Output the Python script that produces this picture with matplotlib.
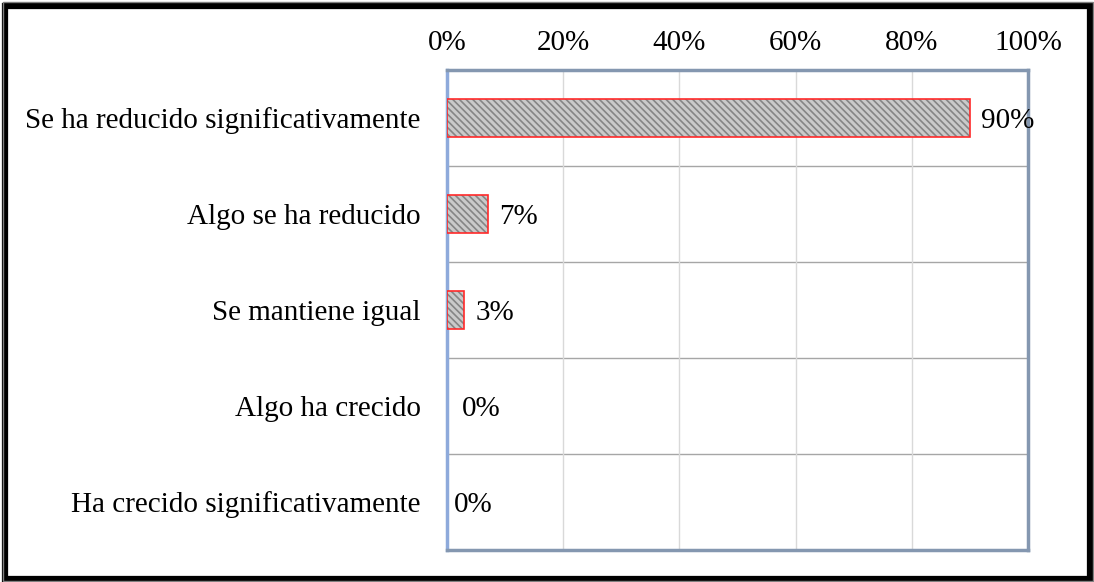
import matplotlib
matplotlib.use("Agg")
import matplotlib.pyplot as plt
from matplotlib.patches import Rectangle

categories = ["Se ha reducido significativamente", "Algo se ha reducido",
              "Se mantiene igual", "Algo ha crecido", "Ha crecido significativamente"]
values = [90, 7, 3, 0, 0]
tick_values = [0, 20, 40, 60, 80, 100]
tick_labels = ["0%", "20%", "40%", "60%", "80%", "100%"]

plt.rcParams['font.family'] = ['Liberation Serif', 'DejaVu Serif']
plt.rcParams['hatch.linewidth'] = 1.2

W, H = 1094, 582
FS = 21
fig = plt.figure(figsize=(W / 100, H / 100), dpi=100)
ax = fig.add_axes([447 / W, 1 - 550 / H, (1028 - 447) / W, (550 - 70) / H])

n = len(categories)
ypos = list(range(n))
# hatched fill
ax.barh(ypos, values, height=0.4, color='#cacaca', edgecolor='#858585',
        linewidth=0, hatch='\\\\\\\\\\', zorder=3)
# red outline
ax.barh(ypos, values, height=0.4, fill=False, edgecolor='#ff2a2a',
        linewidth=[1.2 if v > 0 else 0 for v in values], zorder=4)
ax.set_xlim(0, 100)
ax.set_ylim(n - 0.5, -0.5)
ax.set_yticks(ypos)
ax.set_yticklabels(categories, fontsize=FS, va='center_baseline')
ax.set_xticks(tick_values)
ax.set_xticklabels(tick_labels, fontsize=FS)
ax.xaxis.tick_top()
ax.tick_params(axis='both', length=0)
ax.tick_params(axis='y', pad=19)
ax.tick_params(axis='x', pad=10)

ax.grid(axis='x', color='#d9d9d9', linewidth=1.0, zorder=0)
for i in range(1, n):
    ax.axhline(i - 0.5, color='#a6a6a6', linewidth=1.0, zorder=1)

offsets = [8, 8, 8, 11, 5]
for i, v in enumerate(values):
    ax.annotate(f"{v}%", (v, i), xytext=(offsets[i], 0),
                textcoords='offset points', va='center_baseline', ha='left',
                fontsize=FS, zorder=5)

for s in ['top', 'right', 'bottom']:
    ax.spines[s].set_color('#8497b0')
    ax.spines[s].set_linewidth(2.5)
ax.spines['left'].set_color('#8eaadb')
ax.spines['left'].set_linewidth(2.5)

# outer frame
fig.patches.append(Rectangle((5 / W, 3 / H), (1090 - 5) / W, (576 - 3) / H,
                             transform=fig.transFigure, fill=False,
                             edgecolor='black', linewidth=4.5))
fig.patches.append(Rectangle((2.5 / W, 1 / H), (1092.5 - 2.5) / W, (580 - 1) / H,
                             transform=fig.transFigure, fill=False,
                             edgecolor='#808080', linewidth=1.0))

fig.savefig("out.png", dpi=100)
